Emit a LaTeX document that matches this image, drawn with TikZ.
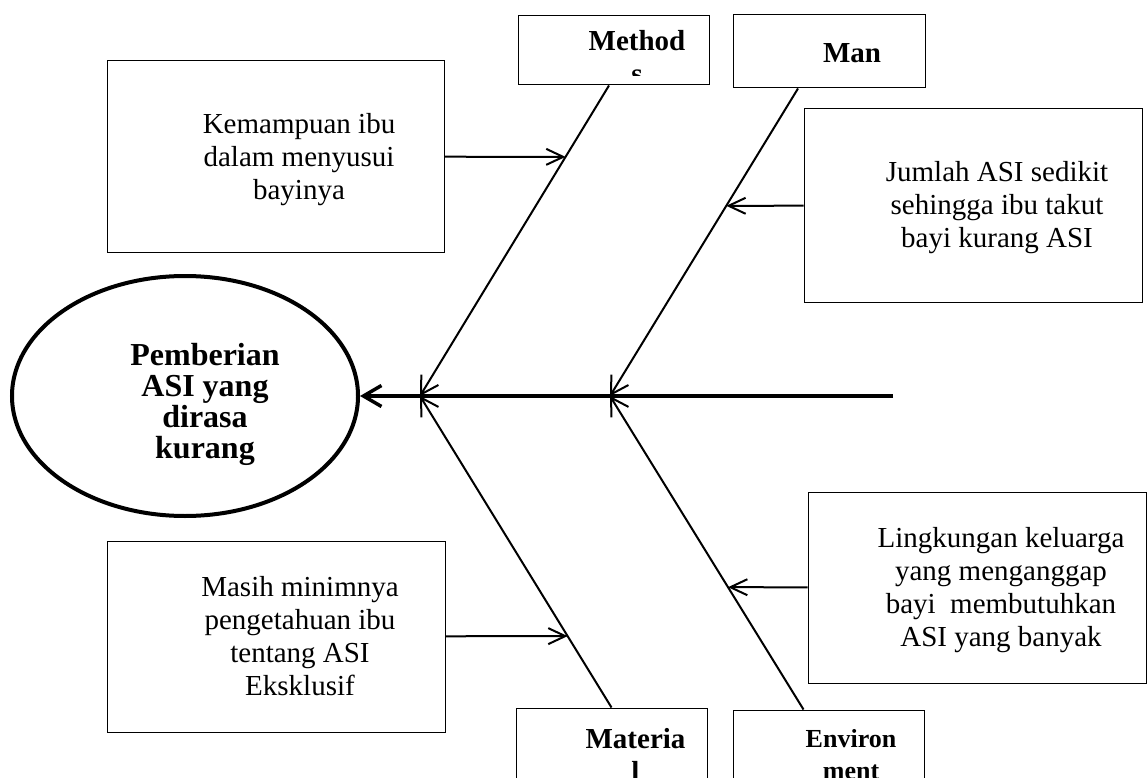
\documentclass[tikz,border=0pt]{standalone}
\usepackage{fontspec}
\setmainfont{Liberation Serif}
\usepackage{tikz}
\usetikzlibrary{arrows.meta,shapes.geometric,calc}

\begin{document}
\begin{tikzpicture}[x=1pt,y=-1pt,
  effect/.style={ellipse,draw,line width=4pt,inner sep=0pt,minimum width=346pt,minimum height=240pt},
  effecttext/.style={anchor=north,align=center,inner sep=0pt,font=\fontsize{32}{31}\selectfont\bfseries},
  cause/.style={draw,line width=1pt,inner sep=0pt,minimum width=338pt,minimum height=191pt},
  causetext/.style={anchor=north,align=center,inner sep=0pt,font=\fontsize{29}{33}\selectfont},
  cat/.style={draw,line width=1pt,inner sep=0pt,minimum width=191pt},
  cattext/.style={anchor=north,align=center,inner sep=0pt,font=\fontsize{29}{33}\selectfont\bfseries},
  spine/.style={line width=3.5pt,-{Straight Barb[length=18pt,width=21pt]}},
  bone/.style={line width=2pt,-{Straight Barb[length=17pt,width=20pt]}},
  feed/.style={line width=2pt,-{Straight Barb[length=17pt,width=16pt]}}]
  \useasboundingbox (0,0) rectangle (1148,778);
  \clip (0,0) rectangle (1148,778);
  \node[effect] (effect) at (185,396) {};
  \node[effecttext] (effectlabel) at (205,343) {Pemberian\\ASI yang\\dirasa\\kurang};
  \node[cat,minimum height=69pt] (method) at (613.5,50.5) {};
  \node[cat,minimum width=192pt,minimum height=73pt] (man) at (829,51.5) {};
  \node[cat,minimum height=92pt] (material) at (611.5,754) {};
  \node[cat,minimum height=90pt] (environment) at (828.5,755) {};
  \begin{scope}
    \clip (518,16) rectangle (709,76);
    \node[cattext] (methodlabel) at (637,30.4) {Method\\s};
  \end{scope}
  \node[cattext] (manlabel) at (852,43.8) {Man};
  \node[cattext] (materiallabel) at (635.5,727.8) {Materia\\l};
  \node[cattext,font=\fontsize{26}{32}\selectfont\bfseries] (environmentlabel) at (851,728.8) {Environ\\ment};
  \node[cause,minimum width=337pt] (kemampuan) at (275.5,156.5) {};
  \node[causetext] (kemampuantext) at (299,113.2) {Kemampuan ibu\\dalam menyusui\\bayinya};
  \node[cause,minimum height=193pt] (jumlah) at (973,205.5) {};
  \node[causetext] (jumlahtext) at (997,161.2) {Jumlah ASI sedikit\\sehingga ibu takut\\bayi kurang ASI};
  \node[cause] (masih) at (276,636.5) {};
  \node[causetext] (masihtext) at (300,576.2) {Masih minimnya\\pengetahuan ibu\\tentang ASI\\Eksklusif};
  \node[cause] (lingkungan) at (977,587.5) {};
  \node[causetext] (lingkungantext) at (1001,527.2) {Lingkungan keluarga\\yang menganggap\\bayi\ \ membutuhkan\\ASI yang banyak};
  \coordinate (tail) at (893,396);
  \coordinate (hubl) at (420,396);
  \coordinate (hubr) at (610,396);
  \coordinate (methodroot) at ([xshift=-4.5pt]method.south);
  \coordinate (manroot) at ([xshift=-31pt]man.south);
  \coordinate (environmentroot) at ([xshift=-25pt]environment.north);
  \coordinate (kemampuantip) at ($(methodroot)!0.2299!(hubl)$);
  \coordinate (jumlahtip) at ($(manroot)!0.3815!(hubr)$);
  \coordinate (masihtip) at ($(material.north)!0.2292!(hubl)$);
  \coordinate (lingkungantip) at ($(environmentroot)!0.3901!(hubr)$);
  \draw[spine] (tail) -- (effect);
  \draw[bone] (methodroot) -- (hubl);
  \draw[bone] (manroot) -- (hubr);
  \draw[bone] (material.north) -- (hubl);
  \draw[bone] (environmentroot) -- (hubr);
  \draw[feed] (kemampuan) -- (kemampuantip);
  \draw[feed] (jumlah) -- (jumlahtip);
  \draw[feed] (masih) -- (masihtip);
  \draw[feed] (lingkungan) -- (lingkungantip);
\end{tikzpicture}
\end{document}
